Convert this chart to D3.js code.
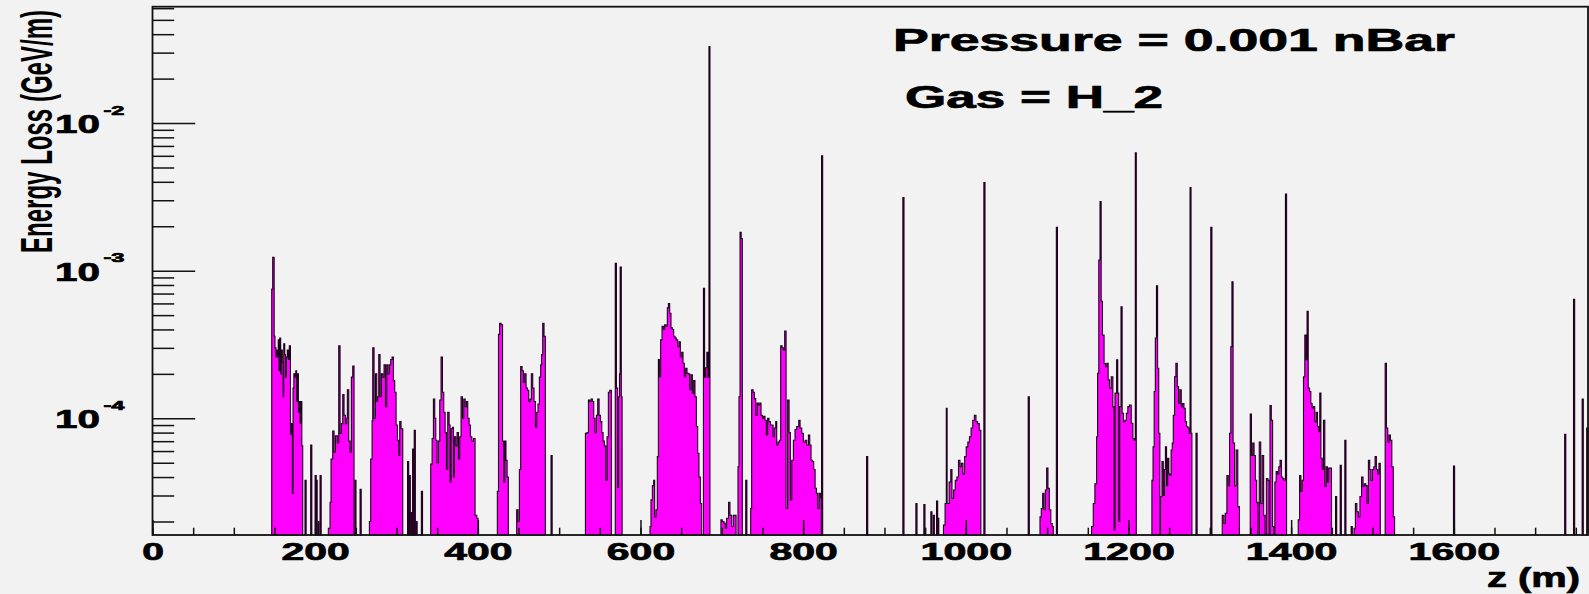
<!DOCTYPE html>
<html>
<head>
<meta charset="utf-8">
<script src="https://cdn.jsdelivr.net/npm/d3@7"></script>
<style>
  html, body { margin: 0; padding: 0; background: #f2f2f2; }
  svg { display: block; }
  text { font-family: "Liberation Sans", Arial, Helvetica, sans-serif; font-weight: bold; fill: #000; }
  .heavy { stroke: #000; stroke-width: 0.7px; }
</style>
</head>
<body>
<svg id="chart" width="1589" height="594"></svg>
<script>
// Energy loss along the beam line (z in metres, energy loss in GeV/m).
// Each cluster is a run of histogram bins: [left edge z, content]; the last
// entry only closes the run (its content is 0).
const clusterA = [[146.6,7.5e-4],[147.8,1.23e-3],[149.6,3.6e-4],[150.6,3.0e-4],[151.8,2.6e-4],[152.7,2.9e-4],[153.5,2.6e-4],[154.6,3.4e-4],[155.5,2.1e-4],[156.4,3.5e-4],[157.6,2.0e-4],[158.4,2.9e-4],[159.6,2.4e-4],[160.6,1.4e-4],[161.4,3.2e-4],[162.6,2.7e-4],[163.6,1.9e-4],[164.6,2.6e-4],[165.8,2.9e-4],[167,2.5e-4],[168.2,3.1e-4],[169.6,7.8e-5],[170.6,9.2e-5],[172,3.1e-5],[172.8,1.6e-4],[173.8,2.0e-4],[175,1.9e-4],[176.2,2.1e-4],[177.2,1.3e-4],[178.4,2.0e-4],[179.4,1.1e-4],[180.4,1.3e-4],[181.4,9.3e-5],[182.6,1.3e-4],[183.6,6.5e-5],[184.7,0]];
const clusterB = [[216.2,1.8e-5],[218.3,2.7e-5],[219.5,5.3e-5],[221.6,8.2e-5],[223.2,5.9e-5],[224.9,7.6e-5],[227.3,6.8e-5],[229,3.1e-4],[230.6,7.9e-5],[232.2,9.2e-5],[233.9,1.45e-4],[235.5,1.05e-4],[237.2,9.2e-5],[238.8,1.0e-4],[239.6,1.56e-4],[241.3,7.0e-5],[242.9,5.9e-5],[244.5,1.9e-4],[246.2,2.26e-4],[247.8,0]];
const clusterC = [[266.7,2.0e-5],[268.3,5.3e-5],[270,9.6e-5],[270.8,3.0e-4],[272.4,1.0e-4],[274.1,2.0e-4],[275.7,1.3e-4],[276.9,1.4e-4],[278.2,2.7e-4],[279.8,1.4e-4],[281.4,2.0e-4],[283.1,1.9e-4],[284.7,2.3e-4],[286.4,1.2e-4],[288,2.3e-4],[289.6,2.0e-4],[291.3,2.3e-4],[292.9,2.5e-4],[294.6,2.6e-4],[296.2,1.8e-4],[297.8,1.5e-4],[299.5,9.0e-5],[301.1,7.1e-5],[302.8,5.6e-5],[304,9.5e-5],[305.6,8.5e-5],[307.7,0]];
const clusterE = [[342.1,4.9e-5],[343.8,7.3e-5],[345.4,1.35e-4],[347,1.0e-4],[348.3,7.1e-5],[349.9,5.0e-5],[351.6,7.0e-5],[353.2,1.33e-4],[354.8,2.6e-4],[356.5,1.5e-4],[358.1,1.1e-4],[359.8,8.0e-5],[361.4,4.5e-5],[363,1.1e-4],[364.7,9.0e-5],[365.9,3.7e-5],[367.1,8.5e-5],[368.8,8.7e-5],[370,4.0e-5],[371.2,7.5e-5],[372.9,6.5e-5],[374.5,8.0e-5],[376.2,5.3e-5],[377.8,7.5e-5],[379.4,1.4e-4],[381.1,1.0e-4],[382.7,1.35e-4],[384.4,1.2e-4],[386,1.3e-4],[387.6,1.0e-4],[389.3,9.0e-5],[390.9,7.5e-5],[392.6,7.0e-5],[394.6,7.3e-5],[396.6,2.2e-5],[398.7,2.1e-5],[400.3,0]];
const clusterF = [[424,3.2e-5],[425.4,3.7e-4],[426.8,4.4e-4],[428.6,4.3e-4],[430.4,7.0e-5],[431.8,3.7e-5],[433.2,7.0e-5],[434.6,5.2e-5],[436,4.0e-5],[437.5,0]];
const clusterG = [[447.8,2.4e-5],[449.4,2.0e-5],[451.1,4.5e-5],[452.7,2.24e-4],[454.4,2.1e-4],[456,1.75e-4],[457.6,2.0e-4],[459.3,1.6e-4],[460.9,1.55e-4],[462.6,1.3e-4],[464.2,1.35e-4],[465.8,2.0e-4],[467.5,1.6e-4],[469.1,1.3e-4],[470.8,8.7e-5],[472.4,1.1e-4],[474,1.25e-4],[475.7,1.9e-4],[477.3,2.3e-4],[478.5,2.7e-4],[479.8,4.4e-4],[481.4,3.6e-4],[483,0]];
const clusterH = [[532.3,7.9e-5],[534.3,8.0e-5],[536,1.33e-4],[537.6,1.3e-4],[539.2,1.35e-4],[540.9,1.3e-4],[542.5,1.0e-4],[544.1,8.0e-5],[545.8,1.05e-4],[547.4,1.35e-4],[549.1,1.05e-4],[550.7,9.5e-5],[552.4,8.0e-5],[554,7.0e-5],[555.6,6.5e-5],[557.3,3.8e-5],[558.9,7.5e-5],[560.5,1.5e-4],[562.2,1.55e-4],[564.2,0]];
const clusterI = [[569,1.12e-3],[570.4,1.6e-4],[571.8,3.4e-5],[573,1.4e-4],[574.2,2.0e-4],[575,1.06e-3],[576.4,1.4e-4],[577.4,0]];
const clusterJ = [[611.7,1.85e-5],[612.9,2.8e-5],[614.6,3.5e-5],[616.2,3.8e-5],[617.4,2.15e-5],[619.1,2.4e-5],[620.7,5.5e-5],[622,2.5e-4],[623.2,1.91e-4],[624.8,3.4e-4],[626.5,4.2e-4],[628.1,4.0e-4],[629.7,4.3e-4],[631.4,4.2e-4],[633,5.6e-4],[634.3,6.0e-4],[635.9,5.15e-4],[637.5,4.1e-4],[639.2,4.0e-4],[640.8,3.6e-4],[642.5,3.5e-4],[644.1,3.4e-4],[645.7,3.05e-4],[647.4,3.3e-4],[649,2.6e-4],[650.7,2.8e-4],[652.3,2.36e-4],[653.9,1.91e-4],[655.6,2.18e-4],[657.2,2.02e-4],[658.9,2.0e-4],[660.5,1.56e-4],[662.1,1.97e-4],[663.8,1.48e-4],[665.4,1.8e-4],[667,1.4e-4],[668.7,8.8e-5],[670.3,5.8e-5],[671.9,4.0e-5],[673.6,2.65e-5],[675.2,0]];
const clusterK = [[677.4,7.6e-4],[678.8,1.9e-4],[680.2,2.2e-4],[681.6,2.8e-4],[683,1.9e-4],[684.2,0.033],[685.4,0]];
const clusterL = [[698.9,2.05e-5],[700.5,2.0e-5],[702.6,1.95e-5],[704.2,1.8e-5],[705.9,2.1e-5],[708.3,2.7e-5],[710,2.2e-5],[712,1.85e-5],[714.1,2.2e-5],[716.1,2.2e-5],[717.5,0]];
const clusterM = [[719.9,4.7e-5],[721.1,1.4e-4],[722.4,1.82e-3],[723.8,1.65e-3],[725.2,0]];
const clusterN = [[735.5,2.45e-5],[736.7,1.56e-4],[738.4,1.5e-4],[740,1.36e-4],[741.7,1.05e-4],[743.3,1.27e-4],[744.9,1.23e-4],[746.6,1.27e-4],[748.2,1.05e-4],[749.9,1.0e-4],[751.5,1.03e-4],[753.1,9.7e-5],[754.8,7.7e-5],[756.4,1.0e-4],[758,9.5e-5],[759.7,9.0e-5],[761.3,9.0e-5],[763,7.5e-5],[764.6,8.6e-5],[766.3,9.5e-5],[767.5,6.6e-5],[769.1,6.9e-5],[770.8,7.1e-5],[772.4,3.1e-4],[774.1,3.0e-4],[775.7,2.9e-4],[777.3,3.9e-4],[779,2.45e-5],[781,1.33e-4],[782.7,8.0e-5],[784.3,2.8e-5],[786,5.2e-5],[788,7.1e-5],[790,8.4e-5],[792.1,8.8e-5],[794.6,9.7e-5],[796.2,8.6e-5],[798.3,7.9e-5],[800.3,6.9e-5],[802.4,7.1e-5],[804.4,6.6e-5],[806.5,7.7e-5],[808.1,6.6e-5],[809.7,5.2e-5],[811.4,5.1e-5],[813,4.5e-5],[814.7,3.35e-5],[816.3,3.1e-5],[817.9,2.45e-5],[819.6,3.1e-5],[821.2,2.9e-5],[822.4,0]];
const clusterO = [[972.5,1.89e-5],[974.5,2.65e-5],[976,1.17e-4],[977,2.65e-5],[979.5,3.7e-5],[981.5,4.5e-5],[983,2.87e-5],[985,3.27e-5],[987,3.8e-5],[989,4.0e-5],[991,5.2e-5],[992.8,4.7e-5],[994.5,4.95e-5],[996.5,4.2e-5],[998.5,5.5e-5],[1000.5,6.4e-5],[1002.5,6.9e-5],[1004.5,7.5e-5],[1006.5,8.6e-5],[1008.5,9.7e-5],[1010.5,1.05e-4],[1012.5,9.5e-5],[1014.5,9.2e-5],[1016.5,8.3e-5],[1018.5,0]];
const clusterP = [[1091.2,2.15e-5],[1092.8,2.45e-5],[1094.5,3.1e-5],[1096.1,2.4e-5],[1097.8,3.27e-5],[1099.4,4.6e-5],[1101,3.35e-5],[1102.7,2.4e-5],[1104.5,1.94e-5],[1106.2,1.85e-5],[1107.6,0]];
const clusterQ = [[1154.6,1.85e-5],[1156.7,2.65e-5],[1158.7,3.6e-5],[1160.8,7.5e-5],[1162,2.02e-4],[1163.5,1.18e-3],[1165,2.94e-3],[1166.4,6.2e-4],[1168,3.67e-4],[1170,2.35e-4],[1171.8,2.24e-4],[1173.4,2.36e-4],[1175,1.82e-4],[1176.8,1.6e-4],[1178.8,1.91e-4],[1180.8,1.2e-4],[1182.2,1.75e-5],[1183.4,1.48e-4],[1185.4,2.49e-4],[1186.8,1.48e-4],[1188,2.0e-5],[1189.2,1.2e-4],[1190.8,5.7e-4],[1192.2,1.08e-4],[1193.8,9.5e-5],[1195.6,9.7e-5],[1197.4,1.08e-4],[1199.2,1.2e-4],[1201.2,1.23e-4],[1203.4,9.25e-5],[1205.4,7.3e-5],[1207,7.1e-5],[1208.4,6.3e-3],[1209.6,0]];
const clusterR = [[1228.8,3.8e-5],[1230.2,6.4e-5],[1231.6,1.52e-4],[1233,3.5e-4],[1234.4,7.9e-4],[1235.8,2.18e-4],[1237.2,7.9e-5],[1238.6,0]];
const clusterT = [[1239.4,2.95e-5],[1241.2,5.1e-5],[1242.8,3.0e-5],[1244.2,4.5e-5],[1245.4,6.4e-5],[1246.8,3.5e-5],[1248.2,5.35e-5],[1249.6,4.2e-5],[1251,4.1e-5],[1252.4,6.1e-5],[1253.8,6.8e-5],[1255.1,1.05e-4],[1256.7,1.91e-4],[1258.3,2.36e-4],[1260,1.64e-4],[1261.6,1.26e-4],[1263.2,1.56e-4],[1264.9,1.2e-4],[1266.5,1.26e-4],[1268.2,1.17e-4],[1269.8,9.5e-5],[1271.4,8.8e-5],[1273.1,8.6e-5],[1274.7,7.9e-5],[1275.7,3.66e-3],[1276.9,7.9e-5],[1278,0]];
const clusterU = [[1315.3,2.2e-5],[1317.3,1.94e-5],[1319,2.27e-5],[1321,4.1e-5],[1322.7,3.5e-5],[1324.3,7.9e-5],[1325.8,3.05e-4],[1327.2,8.4e-4],[1328.6,6.8e-5],[1330.4,3.5e-5],[1332.4,6.1e-5],[1334.4,2.52e-5],[1336.4,0]];
const clusterV = [[1349.7,1.07e-4],[1351.2,5.6e-5],[1352.8,6.8e-5],[1354.4,5.6e-5],[1356,3.8e-5],[1357.6,2.7e-5],[1359.2,0],[1360.8,6.9e-5],[1362.6,2.65e-5],[1364.4,5.6e-5],[1366.2,2.2e-5],[1368,0],[1369.6,3.9e-5],[1371.4,3.8e-5],[1373,0],[1374,1.22e-4],[1375.6,9.7e-5],[1377.2,1.85e-5],[1378.8,0],[1380,3.7e-5],[1381.6,4.35e-5],[1383.2,4.2e-5],[1384.8,4.7e-5],[1386.4,5.2e-5],[1388,4.0e-5],[1389.6,3.9e-5],[1391.2,3.8e-5],[1393,3.3e-3],[1394.4,0]];
const clusterW = [[1408.7,2.05e-5],[1410.4,4.1e-5],[1412,3.2e-5],[1413.6,3.8e-5],[1415.2,1.91e-4],[1416.8,3.67e-4],[1418.4,2.49e-4],[1419.6,5.3e-4],[1421,1.6e-4],[1422.6,1.52e-4],[1424.2,1.26e-4],[1425.8,1.17e-4],[1427.4,1.2e-4],[1429,9.5e-5],[1430.8,1.1e-4],[1432.4,8.8e-5],[1434,8.1e-5],[1435.2,1.48e-4],[1436.6,5.35e-5],[1438.2,4.5e-5],[1439.8,9.7e-5],[1441.4,3.45e-5],[1443,4.7e-5],[1444.6,3.7e-5],[1446.2,4.6e-5],[1448,4.6e-5],[1449.6,0]];
const clusterX = [[1477.3,1.8e-5],[1479,2.65e-5],[1480.8,2.33e-5],[1482.6,2.15e-5],[1484.6,2.95e-5],[1486.6,4.0e-5],[1488.4,3.45e-5],[1490,3.6e-5],[1491.8,3.5e-5],[1493.4,2.65e-5],[1495,5.2e-5],[1496.6,4.5e-5],[1498.2,3.8e-5],[1500,4.5e-5],[1501.6,4.7e-5],[1503.2,5.5e-5],[1504.8,4.5e-5],[1506.4,4.2e-5],[1508,4.95e-5],[1509.6,0]];
const clusterY = [[1515.6,2.36e-4],[1517.2,8.6e-5],[1518.8,6.9e-5],[1520.4,7.7e-5],[1522,7.1e-5],[1523.8,4.7e-5],[1525.6,2.15e-5],[1527.2,0]];

// Isolated single bins: [z, content]
const singleBins = [[187.5,3.8e-5],[194.5,6.6e-5],[199.9,4.1e-5],[201.1,3.8e-5],[203.4,2.0e-5],[206,4.1e-5],[248.8,3.8e-5],[255.2,3.3e-5],
  [313.6,5.1e-5],[315.6,4.1e-5],[317.7,2.3e-5],[319.8,6.2e-5],[321.8,8.3e-5],[324,2.0e-5],[330.6,3.2e-5],[490,5.6e-5],[729.4,3.8e-5],
  [822.6,6.0e-3],[878,5.5e-5],[922.6,3.13e-3],[938.6,2.65e-5],[948.4,2.6e-5],[957,2.33e-5],[959.9,2.2e-5],[964,2.75e-5],[965.4,2.1e-5],
  [1022.2,3.95e-3],[1076.7,1.4e-4],[1111.3,1.97e-3],[1283,7.9e-5],[1301.2,1.97e-3],[1454.6,2.95e-5],[1460.3,4.8e-5],[1466,7.1e-5],
  [1473.8,1.85e-5],[1599.6,4.75e-5],[1736.3,7.8e-5],[1747.2,6.4e-4],[1757.8,1.35e-4],[1763.4,8.6e-5]];
const singleBinWidth = 1.4;

const clusters = [clusterA, clusterB, clusterC, clusterE, clusterF, clusterG, clusterH, clusterI, clusterJ, clusterK,
  clusterL, clusterM, clusterN, clusterO, clusterP, clusterQ, clusterR, clusterT, clusterU, clusterV, clusterW, clusterX, clusterY];

// Axes
const zDomain = [0, 1765];
const eDomain = [1.62e-5, 0.0614];
const zTicks = [0, 200, 400, 600, 800, 1000, 1200, 1400, 1600];
const zTickLabels = ["0", "200", "400", "600", "800", "1000", "1200", "1400", "1600"];
const eTicks = [1e-4, 1e-3, 1e-2];
const eTickExponents = ["-4", "-3", "-2"];
const xTitle = "z (m)";
const yTitle = "Energy Loss (GeV/m)";
const notes = ["Pressure = 0.001 nBar", "Gas = H_2"];

// ---------------------------------------------------------------------
const svg = d3.select("#chart");
const frame = { left: 152.5, right: 1588, top: 6.7, bottom: 535 };
const ink = "#111";

svg.append("rect").attr("width", 1589).attr("height", 594).attr("fill", "#f2f2f2");

const x = d3.scaleLinear().domain(zDomain).range([frame.left, frame.right]);
const y = d3.scaleLog().domain(eDomain).range([frame.bottom, frame.top]).clamp(true);
const yOf = v => (v > eDomain[0] ? y(v) : frame.bottom);

function runPath(bins) {
  const p = d3.path();
  p.moveTo(x(bins[0][0]), frame.bottom);
  for (let i = 0; i < bins.length - 1; i++) {
    const yy = yOf(bins[i][1]);
    p.lineTo(x(bins[i][0]), yy);
    p.lineTo(x(bins[i + 1][0]), yy);
  }
  p.lineTo(x(bins[bins.length - 1][0]), frame.bottom);
  p.closePath();
  return p.toString();
}

const runs = clusters.concat(singleBins.map(([z, v]) => [[z, v], [Math.min(z + singleBinWidth, zDomain[1]), 0]]));

const hist = svg.append("g");
hist.selectAll("path").data(runs).join("path")
  .attr("d", runPath)
  .attr("fill", "#ff00ff")
  .attr("stroke", "#1e001c")
  .attr("stroke-width", 1.1)
  .attr("stroke-linejoin", "miter");

// Tick marks (drawn inside the frame)
const xMinor = d3.axisBottom(x).tickValues(d3.range(0, zDomain[1], 50)).tickSize(-7.3).tickFormat("");
const xMajor = d3.axisBottom(x).tickValues(zTicks).tickSize(-15).tickFormat((d, i) => zTickLabels[i]);
const yMinorVals = y.ticks().filter(v => Math.abs(Math.log10(v) - Math.round(Math.log10(v))) > 1e-6);
const yMinor = d3.axisLeft(y).tickValues(yMinorVals).tickSize(-21.7).tickFormat("");
const yMajor = d3.axisLeft(y).tickValues(eTicks).tickSize(-42.7).tickFormat("");

function styleAxis(g) {
  g.select(".domain").remove();
  g.selectAll(".tick line").attr("stroke", ink).attr("stroke-width", 1.5);
}

svg.append("g").attr("transform", `translate(0,${frame.bottom})`).call(xMinor).call(styleAxis);
const gx = svg.append("g").attr("transform", `translate(0,${frame.bottom})`).call(xMajor).call(styleAxis);
gx.selectAll(".tick text")
  .attr("class", "heavy")
  .attr("y", 24.5).attr("dy", null)
  .attr("fill", "#000")
  .style("font-size", "23.5px")
  .style("font-family", "'Liberation Sans', Arial, sans-serif")
  .style("font-weight", "bold")
  .attr("text-anchor", "middle")
  .attr("textLength", (d, i) => 23.3 * zTickLabels[i].length - 1.6)
  .attr("lengthAdjust", "spacingAndGlyphs");

svg.append("g").attr("transform", `translate(${frame.left},0)`).call(yMinor).call(styleAxis);
svg.append("g").attr("transform", `translate(${frame.left},0)`).call(yMajor).call(styleAxis);

// Frame
svg.append("rect")
  .attr("x", frame.left).attr("y", frame.top)
  .attr("width", frame.right - frame.left).attr("height", frame.bottom - frame.top)
  .attr("fill", "none").attr("stroke", ink).attr("stroke-width", 1.8);

// Y tick labels: 10 with exponent
const yl = svg.append("g").selectAll("g").data(eTicks).join("g");
yl.append("text")
  .attr("class", "heavy")
  .attr("x", 55).attr("y", d => y(d) + 10)
  .style("font-size", "25px")
  .attr("textLength", 45).attr("lengthAdjust", "spacingAndGlyphs")
  .text("10");
yl.append("text")
  .attr("class", "heavy")
  .attr("x", 103.5).attr("y", d => y(d) - 8.2)
  .style("font-size", "13px")
  .attr("textLength", 21).attr("lengthAdjust", "spacingAndGlyphs")
  .text((d, i) => eTickExponents[i]);

// Axis titles
svg.append("text")
  .attr("class", "heavy")
  .attr("x", 1487).attr("y", 587)
  .style("font-size", "27px")
  .attr("textLength", 93).attr("lengthAdjust", "spacingAndGlyphs")
  .text(xTitle);

svg.append("text")
  .attr("transform", "translate(52,253) scale(1.75,1) rotate(-90)")
  .style("font-size", "25px")
  .attr("textLength", 243).attr("lengthAdjust", "spacingAndGlyphs")
  .text(yTitle);

// Run conditions
svg.append("text")
  .attr("class", "heavy")
  .attr("x", 893).attr("y", 50.7)
  .style("font-size", "31px")
  .attr("textLength", 562).attr("lengthAdjust", "spacingAndGlyphs")
  .text(notes[0]);
svg.append("text")
  .attr("class", "heavy")
  .attr("x", 905).attr("y", 107.5)
  .style("font-size", "31px")
  .attr("textLength", 258).attr("lengthAdjust", "spacingAndGlyphs")
  .text(notes[1]);
</script>
</body>
</html>
